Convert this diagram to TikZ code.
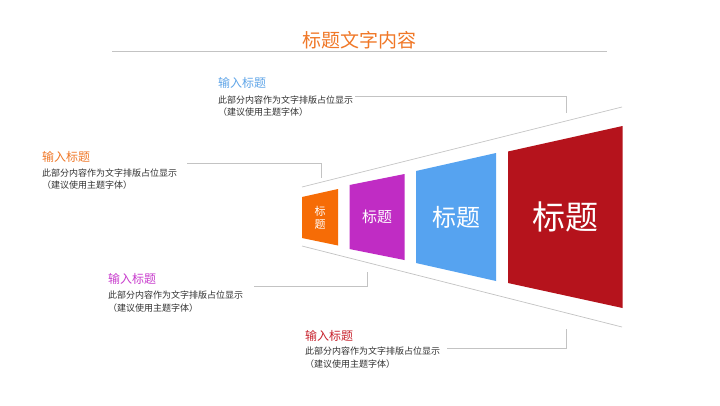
\documentclass[tikz,border=0pt]{standalone}
\usepackage{fontspec}
\setmainfont{Noto Sans CJK SC}
\definecolor{cOrange}{RGB}{246,108,6}
\definecolor{cMagenta}{RGB}{192,44,196}
\definecolor{cBlue}{RGB}{86,163,240}
\definecolor{cRed}{RGB}{181,19,28}
\definecolor{tOrange}{RGB}{240,120,40}
\definecolor{tMagenta}{RGB}{200,60,205}
\definecolor{tBlue}{RGB}{95,165,232}
\definecolor{tRed}{RGB}{200,35,45}
\definecolor{bodyGray}{RGB}{50,50,50}
\definecolor{lineGray}{RGB}{195,195,195}
\tikzset{
  lbltitle/.style={anchor=west,inner sep=0pt,font=\fontsize{12}{14}\selectfont},
  lblbody/.style={anchor=west,inner sep=0pt,text=bodyGray,font=\fontsize{9}{13}\selectfont},
  conn/.style={draw=lineGray,line width=0.7pt},
  boxtext/.style={text=white,inner sep=0pt,align=center}
}
\begin{document}
\begin{tikzpicture}[x=1pt,y=-1pt]
\useasboundingbox (0,0) rectangle (720,405);
\fill[white] (0,0) rectangle (720,405);
% title
\node[text=tOrange,inner sep=0pt,font=\fontsize{19}{22}\selectfont] (title) at (359,40) {标题文字内容};
\coordinate (ulA) at (112,51);
\coordinate (ulB) at (607,51);
\draw[conn] (ulA) -- (ulB);
% funnel lines
\coordinate (fTL) at (302,187);
\coordinate (fTR) at (622,107);
\coordinate (fBL) at (302,246);
\coordinate (fBR) at (622,327);
\draw[conn] (fTL) -- (fTR);
\draw[conn] (fBL) -- (fBR);
% boxes
\fill[cOrange] (302,197) -- (338,189) -- (338,245.5) -- (302,238) -- cycle;
\fill[cMagenta] (349.5,185) -- (404.5,174) -- (404.5,260) -- (349.5,249) -- cycle;
\fill[cBlue] (416,171) -- (496,153) -- (496,281) -- (416,263) -- cycle;
\fill[cRed] (508,151.5) -- (622.5,126) -- (622.5,308) -- (508,283) -- cycle;
\node[boxtext,font=\fontsize{11}{12.5}\selectfont] (t1) at (320,218) {标\\题};
\node[boxtext,font=\fontsize{15}{18}\selectfont] (t2) at (377,217) {标题};
\node[boxtext,font=\fontsize{24}{28}\selectfont] (t3) at (456,217) {标题};
\node[boxtext,font=\fontsize{33}{38}\selectfont] (t4) at (565,217) {标题};
% blue label (top right)
\node[lbltitle,text=tBlue] (bT) at (218,83) {输入标题};
\node[lblbody] (bL1) at (218,100) {此部分内容作为文字排版占位显示};
\node[lblbody] (bL2) at (218,112) {（建议使用主题字体）};
\coordinate (bA) at (355,96);
\coordinate (bB) at (566,96);
\coordinate (bC) at (566,113);
\draw[conn] (bA) -- (bB) -- (bC);
% orange label
\node[lbltitle,text=tOrange] (oT) at (42,157) {输入标题};
\node[lblbody] (oL1) at (42,173) {此部分内容作为文字排版占位显示};
\node[lblbody] (oL2) at (42,185) {（建议使用主题字体）};
\coordinate (oA) at (187,163);
\coordinate (oB) at (321,163);
\coordinate (oC) at (321,178);
\draw[conn] (oA) -- (oB) -- (oC);
% magenta label
\node[lbltitle,text=tMagenta] (mT) at (108,279) {输入标题};
\node[lblbody] (mL1) at (108,295) {此部分内容作为文字排版占位显示};
\node[lblbody] (mL2) at (108,308) {（建议使用主题字体）};
\coordinate (mA) at (254,286);
\coordinate (mB) at (367,286);
\coordinate (mC) at (367,272);
\draw[conn] (mA) -- (mB) -- (mC);
% red label
\node[lbltitle,text=tRed] (rT) at (305,336) {输入标题};
\node[lblbody] (rL1) at (305,351) {此部分内容作为文字排版占位显示};
\node[lblbody] (rL2) at (305,364) {（建议使用主题字体）};
\coordinate (rA) at (447,348);
\coordinate (rB) at (566,348);
\coordinate (rC) at (566,329);
\draw[conn] (rA) -- (rB) -- (rC);
\end{tikzpicture}
\end{document}
